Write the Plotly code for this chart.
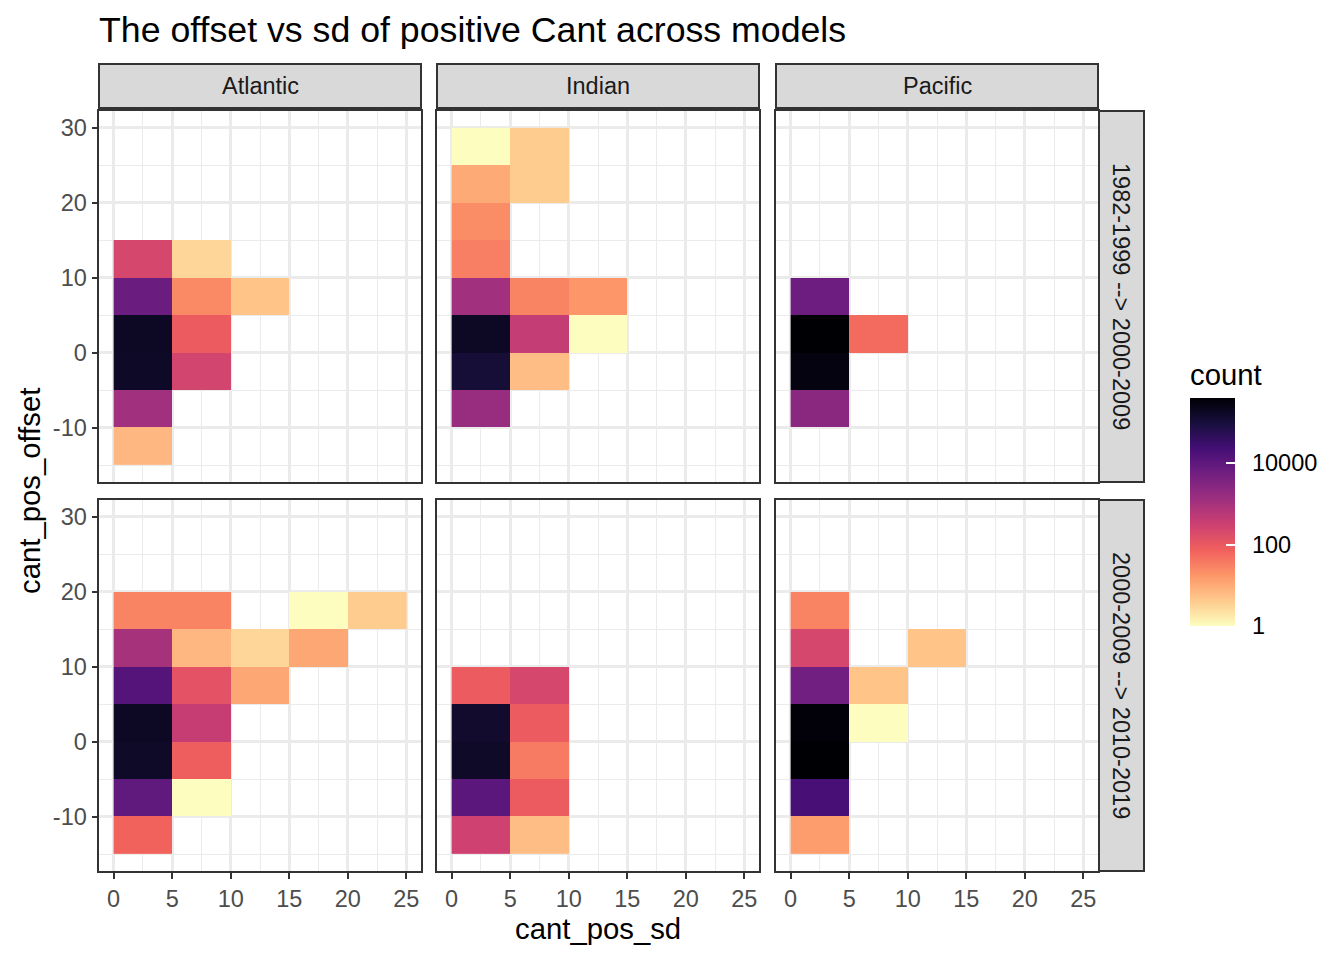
import numpy as np
import plotly.graph_objects as go

# ---------------- data (bin lower edges and counts) ----------------
basins = ["Atlantic", "Indian", "Pacific"]
periods = ["1982-1999 --> 2000-2009", "2000-2009 --> 2010-2019"]

sd_edges = [0, 5, 10, 15, 20, 25]
offset_edges = [-15, -10, -5, 0, 5, 10, 15, 20, 25, 30]

x_ticks = [0, 5, 10, 15, 20, 25]
x_tick_labels = ["0", "5", "10", "15", "20", "25"]
y_ticks = [-10, 0, 10, 20, 30]
y_tick_labels = ["-10", "0", "10", "20", "30"]

cbar_ticks = [1, 100, 10000]
cbar_labels = ["1", "100", "10000"]

# Atlantic, 1982-1999 --> 2000-2009
atl_1_sd = [0, 0, 0, 0, 0, 0, 5, 5, 5, 5, 10]
atl_1_off = [10, 5, 0, -5, -10, -15, 10, 5, 0, -5, 5]
atl_1_n = [220, 7000, 180000, 170000, 1200, 7, 3, 25, 90, 250, 5]

# Indian, 1982-1999 --> 2000-2009
ind_1_sd = [0, 0, 0, 0, 0, 0, 0, 0, 5, 5, 5, 5, 5, 10, 10]
ind_1_off = [25, 20, 15, 10, 5, 0, -5, -10, 25, 20, 5, 0, -5, 5, 0]
ind_1_n = [1, 10, 22, 32, 1200, 180000, 110000, 1600, 4, 4, 28, 400, 6, 17, 1]

# Pacific, 1982-1999 --> 2000-2009
pac_1_sd = [0, 0, 0, 0, 5]
pac_1_off = [5, 0, -5, -10, 0]
pac_1_n = [6300, 400000, 300000, 2500, 55]

# Atlantic, 2000-2009 --> 2010-2019
atl_2_sd = [0, 0, 0, 0, 0, 0, 0, 5, 5, 5, 5, 5, 5, 10, 10, 15, 15, 20]
atl_2_off = [15, 10, 5, 0, -5, -10, -15, 15, 10, 5, 0, -5, -10, 10, 5, 15, 10, 15]
atl_2_n = [28, 1000, 14000, 180000, 160000, 9500, 70, 28, 7, 130, 380, 80, 1, 3, 11, 1, 11, 4]

# Indian, 2000-2009 --> 2010-2019
ind_2_sd = [0, 0, 0, 0, 0, 5, 5, 5, 5, 5]
ind_2_off = [5, 0, -5, -10, -15, 5, 0, -5, -10, -15]
ind_2_n = [90, 140000, 160000, 11000, 290, 220, 90, 37, 90, 6]

# Pacific, 2000-2009 --> 2010-2019
pac_2_sd = [0, 0, 0, 0, 0, 0, 0, 5, 5, 10]
pac_2_off = [15, 10, 5, 0, -5, -10, -15, 5, 0, 10]
pac_2_n = [28, 220, 5600, 350000, 400000, 20000, 15, 5, 1, 5]

panels = [
    [(atl_1_sd, atl_1_off, atl_1_n), (ind_1_sd, ind_1_off, ind_1_n), (pac_1_sd, pac_1_off, pac_1_n)],
    [(atl_2_sd, atl_2_off, atl_2_n), (ind_2_sd, ind_2_off, ind_2_n), (pac_2_sd, pac_2_off, pac_2_n)],
]

# ---------------- layout geometry ----------------
W, H = 1344, 960
OFF = 8  # page body margin
def px_x(p): return (p - OFF) / W
def px_y(p): return 1 - (p - OFF) / H

x_doms = [(px_x(99), px_x(421)), (px_x(437), px_x(759)), (px_x(776), px_x(1098))]
y_doms = [(px_y(482), px_y(111)), (px_y(871), px_y(500))]

FONT = "Liberation Sans, Arial, sans-serif"
BASE = 23.5
magma_r = [
    [0.0, "#fcfdbf"], [0.111, "#feca8d"], [0.222, "#fd9668"], [0.333, "#f1605d"],
    [0.444, "#cd4071"], [0.556, "#9e2f7f"], [0.667, "#721f81"], [0.778, "#440f76"],
    [0.889, "#180f3d"], [1.0, "#000004"],
]

all_counts = np.concatenate([np.array(p[2], float) for row in panels for p in row])
zmax = np.log10(all_counts.max())

fig = go.Figure()
layout = {}
shapes = []
annotations = []

x_centers = [(a + b) / 2 for a, b in zip(sd_edges[:-1], sd_edges[1:])]
y_centers = [(a + b) / 2 for a, b in zip(offset_edges[:-1], offset_edges[1:])]

for r in range(2):
    for c in range(3):
        i = r * 3 + c + 1
        sfx = "" if i == 1 else str(i)
        sd, off, n = panels[r][c]
        z = np.full((len(y_centers), len(x_centers)), np.nan)
        for s, o, cnt in zip(sd, off, n):
            z[offset_edges.index(o), sd_edges.index(s)] = np.log10(cnt)
        fig.add_trace(go.Heatmap(
            x=x_centers, y=y_centers, z=z, coloraxis="coloraxis",
            xaxis="x" + sfx, yaxis="y" + sfx, hoverinfo="skip",
        ))
        common = dict(
            ticklen=5.5, tickwidth=2, tickcolor="#333333",
            tickfont=dict(size=BASE, color="#4d4d4d", family=FONT),
            showgrid=True, gridcolor="#ebebeb", gridwidth=2.6,
            showline=True, mirror=True, linecolor="#333333", linewidth=2,
            zeroline=False, fixedrange=True,
        )
        layout["xaxis" + sfx] = dict(
            domain=x_doms[c], anchor="y" + sfx, range=[-1.25, 26.25],
            tickvals=x_ticks, ticktext=x_tick_labels,
            showticklabels=(r == 1), ticks="outside" if r == 1 else "",
            minor=dict(dtick=2.5, tick0=0, showgrid=True, gridcolor="#ebebeb", gridwidth=1.3),
            **common,
        )
        layout["yaxis" + sfx] = dict(
            domain=y_doms[r], anchor="x" + sfx, range=[-17.25, 32.25],
            tickvals=y_ticks, ticktext=y_tick_labels,
            showticklabels=(c == 0), ticks="outside" if c == 0 else "",
            minor=dict(dtick=5, tick0=-15, showgrid=True, gridcolor="#ebebeb", gridwidth=1.3),
            **common,
        )

# top strips
for c, name in enumerate(basins):
    x0, x1 = x_doms[c]
    y0, y1 = px_y(108), px_y(64)
    shapes.append(dict(type="rect", xref="paper", yref="paper", x0=x0, x1=x1, y0=y0, y1=y1,
                       fillcolor="#d9d9d9", line=dict(color="#333333", width=2), layer="below"))
    annotations.append(dict(text=name, xref="paper", yref="paper", x=(x0 + x1) / 2, y=(y0 + y1) / 2,
                            showarrow=False, xanchor="center", yanchor="middle",
                            font=dict(size=BASE, color="#1a1a1a", family=FONT)))
# right strips
for r, name in enumerate(periods):
    y0, y1 = y_doms[r]
    x0, x1 = px_x(1099), px_x(1144)
    shapes.append(dict(type="rect", xref="paper", yref="paper", x0=x0, x1=x1, y0=y0, y1=y1,
                       fillcolor="#d9d9d9", line=dict(color="#333333", width=2), layer="below"))
    annotations.append(dict(text=name, xref="paper", yref="paper", x=(x0 + x1) / 2, y=(y0 + y1) / 2,
                            showarrow=False, xanchor="center", yanchor="middle", textangle=90,
                            font=dict(size=BASE, color="#1a1a1a", family=FONT)))

annotations.append(dict(text="cant_pos_sd", xref="paper", yref="paper", x=px_x(598), y=px_y(928),
                        showarrow=False, xanchor="center", yanchor="middle",
                        font=dict(size=29.3, color="black", family=FONT)))
annotations.append(dict(text="cant_pos_offset", xref="paper", yref="paper", x=px_x(29), y=px_y(491),
                        showarrow=False, xanchor="center", yanchor="middle", textangle=-90,
                        font=dict(size=29.3, color="black", family=FONT)))

layout.update(dict(
    width=W, height=H, autosize=False,
    margin=dict(l=0, r=0, t=0, b=0),
    paper_bgcolor="white", plot_bgcolor="white",
    font=dict(family=FONT, color="black"),
    title=dict(text="The offset vs sd of positive Cant across models", x=px_x(99), xanchor="left",
               y=px_y(30), yanchor="middle", xref="paper", yref="paper",
               font=dict(size=35.7, color="black", family=FONT)),
    coloraxis=dict(
        colorscale=magma_r, cmin=0, cmax=zmax,
        colorbar=dict(
            title=dict(text="count", side="top", font=dict(size=29.3, color="black", family=FONT)),
            x=px_x(1190), xanchor="left", xpad=0,
            y=px_y(626), yanchor="bottom", ypad=0,
            lenmode="pixels", len=266, thicknessmode="pixels", thickness=45,
            outlinewidth=0,
            tickvals=list(np.log10(cbar_ticks)),
            ticktext=["\u2002" + s for s in cbar_labels],
            ticks="inside", ticklen=9, tickcolor="white", tickwidth=1.5,
            tickfont=dict(size=BASE, color="black", family=FONT),
        ),
    ),
    shapes=shapes, annotations=annotations, showlegend=False,
))
fig.update_layout(layout)
fig.write_html("out.html")
